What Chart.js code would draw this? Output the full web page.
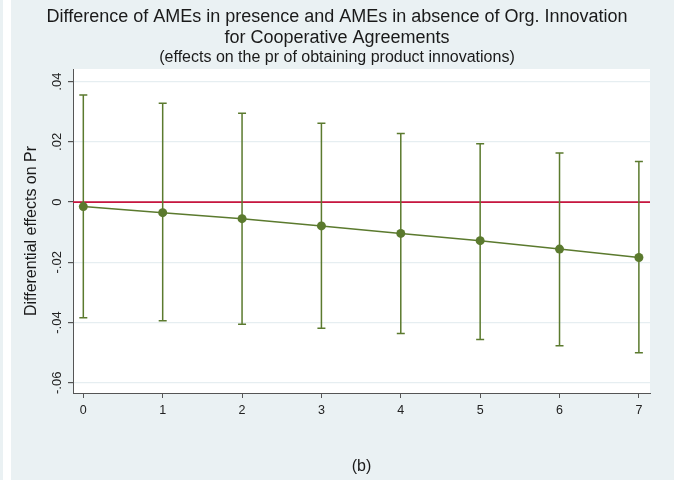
<!DOCTYPE html>
<html>
<head>
<meta charset="utf-8">
<script src="https://cdn.jsdelivr.net/npm/chart.js@4"></script>
<style>
  html, body { margin: 0; padding: 0; background: #eaf1f3; }
  #wrap { width: 674px; height: 480px; }
</style>
</head>
<body>
<div id="wrap"><canvas id="c" width="674" height="480"></canvas></div>
<script>
// data
const xValues = [0, 1, 2, 3, 4, 5, 6, 7];
const effect = [-0.0015, -0.0035, -0.0055, -0.0079, -0.0104, -0.0128, -0.0156, -0.0184];
const upperCI = [0.0356, 0.0328, 0.0295, 0.0262, 0.0228, 0.0194, 0.0163, 0.0135];
const lowerCI = [-0.0384, -0.0394, -0.0406, -0.0419, -0.0436, -0.0456, -0.0477, -0.0500];
const xTicks = [0, 1, 2, 3, 4, 5, 6, 7];
const yTicks = [0.04, 0.02, 0, -0.02, -0.04, -0.06];
const yTickLabels = ['.04', '.02', '0', '-.02', '-.04', '-.06'];

const green = '#5b7a2e';
const red = '#c8163f';
const bgPanel = '#eaf1f3';
const fontFam = '"Liberation Sans", Arial, sans-serif';

// background panel, white strip, plot region
const bgPlugin = {
  id: 'bg',
  beforeDraw(chart) {
    const ctx = chart.ctx;
    const a = chart.chartArea;
    ctx.save();
    ctx.fillStyle = bgPanel;
    ctx.fillRect(0, 0, chart.width, chart.height);
    ctx.fillStyle = '#ffffff';
    ctx.fillRect(3, 0, 8, chart.height);
    ctx.fillRect(a.left, a.top, a.right - a.left, a.bottom - a.top);
    ctx.restore();
  }
};

// zero line and error bars, drawn under the line
const errPlugin = {
  id: 'errbars',
  beforeDatasetsDraw(chart) {
    const ctx = chart.ctx;
    const xs = chart.scales.x, ys = chart.scales.y;
    const a = chart.chartArea;
    ctx.save();
    ctx.strokeStyle = red;
    ctx.lineWidth = 1.6;
    const y0 = ys.getPixelForValue(0);
    ctx.beginPath();
    ctx.moveTo(a.left, y0);
    ctx.lineTo(a.right, y0);
    ctx.stroke();

    ctx.strokeStyle = green;
    ctx.lineWidth = 1.5;
    xValues.forEach((xv, i) => {
      const px = xs.getPixelForValue(xv);
      const top = ys.getPixelForValue(upperCI[i]);
      const bot = ys.getPixelForValue(lowerCI[i]);
      ctx.beginPath();
      ctx.moveTo(px, top); ctx.lineTo(px, bot);
      ctx.moveTo(px - 4, top); ctx.lineTo(px + 4, top);
      ctx.moveTo(px - 4, bot); ctx.lineTo(px + 4, bot);
      ctx.stroke();
    });
    ctx.restore();
  },
  afterDraw(chart) {
    // y tick labels, rotated like the original
    const ctx = chart.ctx;
    const ys = chart.scales.y;
    ctx.save();
    ctx.fillStyle = '#222';
    ctx.font = '13px ' + fontFam;
    ctx.textAlign = 'center';
    ctx.textBaseline = 'middle';
    yTicks.forEach((v, i) => {
      const py = ys.getPixelForValue(v);
      ctx.save();
      ctx.translate(57, py);
      ctx.rotate(-Math.PI / 2);
      ctx.fillText(yTickLabels[i], 0, 0);
      ctx.restore();
    });
    ctx.restore();
  }
};

new Chart(document.getElementById('c'), {
  type: 'scatter',
  data: {
    datasets: [{
      data: xValues.map((x, i) => ({ x: x, y: effect[i] })),
      showLine: true,
      borderColor: green,
      backgroundColor: green,
      borderWidth: 1.5,
      pointRadius: 4.5,
      pointHoverRadius: 4.5,
      pointBorderWidth: 0
    }]
  },
  options: {
    responsive: false,
    animation: false,
    layout: { padding: { left: 24, right: 24, top: 0, bottom: 0 } },
    plugins: {
      legend: { display: false },
      tooltip: { enabled: false },
      title: {
        display: true,
        text: ['Difference of AMEs in presence and AMEs in absence of Org. Innovation', 'for Cooperative Agreements'],
        color: '#1a1a1a',
        font: { family: fontFam, size: 18, weight: 'normal', lineHeight: 1.15 },
        padding: { top: 7, bottom: 0 }
      },
      subtitle: {
        display: true,
        text: '(effects on the pr of obtaining product innovations)',
        color: '#1a1a1a',
        font: { family: fontFam, size: 16, weight: 'normal', lineHeight: 1.1 },
        padding: { top: 0, bottom: 3 }
      }
    },
    scales: {
      x: {
        type: 'linear',
        min: -0.13,
        max: 7.14,
        afterBuildTicks(scale) { scale.ticks = xTicks.map(v => ({ value: v })); },
        afterFit(scale) { scale.height = 87; },
        border: { color: '#555', width: 1 },
        grid: { drawOnChartArea: false, tickLength: 5, tickColor: '#555' },
        ticks: { color: '#222', padding: 5, font: { family: fontFam, size: 12.5 } },
        title: {
          display: true,
          text: '(b)',
          color: '#1a1a1a',
          font: { family: fontFam, size: 16 },
          padding: { top: 0, bottom: 4 }
        }
      },
      y: {
        min: -0.0634,
        max: 0.0442,
        afterBuildTicks(scale) { scale.ticks = yTicks.map(v => ({ value: v })); },
        afterFit(scale) { scale.width = 49; },
        border: { color: '#555', width: 1 },
        grid: { color: '#e6eef1', lineWidth: 1.2, tickLength: 5, tickColor: '#555' },
        ticks: { color: 'rgba(0,0,0,0)', font: { family: fontFam, size: 11 } },
        title: {
          display: true,
          text: 'Differential effects on Pr',
          color: '#1a1a1a',
          font: { family: fontFam, size: 16 },
          padding: { top: -2, bottom: 0 }
        }
      }
    }
  },
  plugins: [bgPlugin, errPlugin]
});
</script>
</body>
</html>
